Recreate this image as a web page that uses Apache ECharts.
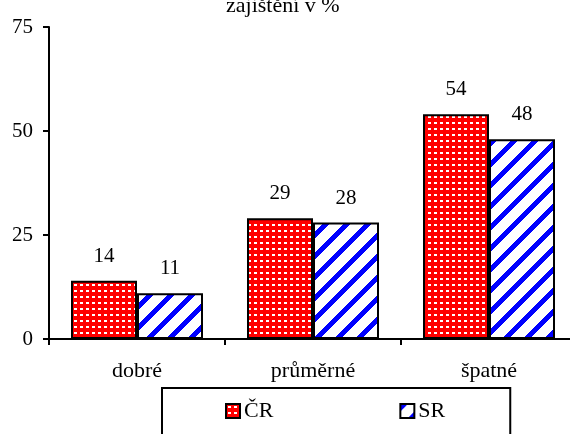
<!DOCTYPE html>
<html>
<head>
<meta charset="utf-8">
<script src="https://cdn.jsdelivr.net/npm/echarts@6/dist/echarts.min.js"></script>
<style>html,body{margin:0;padding:0;background:#fff;}#c{width:570px;height:434px;}</style>
</head>
<body>
<div id="c"></div>
<script>
const categories = ['dobré', 'průměrné', 'špatné'];
const seriesNames = ['ČR', 'SR'];
const valuesCR = [14, 29, 54];
const valuesSR = [11, 28, 48];
const yTicks = [0, 25, 50, 75];
const titleText = 'zajištění v %';

function makeDots() {
  const c = document.createElement('canvas');
  c.width = 6; c.height = 6;
  const g = c.getContext('2d');
  g.fillStyle = '#ff0000'; g.fillRect(0, 0, 6, 6);
  g.fillStyle = '#ffffff'; g.fillRect(2, 2, 3, 2);
  return c;
}
function makeStripes() {
  const P = 21, w = 7;
  const c = document.createElement('canvas');
  c.width = P; c.height = P;
  const g = c.getContext('2d');
  const img = g.createImageData(P, P);
  for (let y = 0; y < P; y++) for (let x = 0; x < P; x++) {
    const i = (y * P + x) * 4;
    const blue = ((x + y) % P) < w;
    img.data[i] = blue ? 0 : 255;
    img.data[i + 1] = blue ? 0 : 255;
    img.data[i + 2] = 255;
    img.data[i + 3] = 255;
  }
  g.putImageData(img, 0, 0);
  return c;
}
const font = "'Liberation Serif', 'Times New Roman', serif";
const fs = 21;
const chart = echarts.init(document.getElementById('c'), null, {renderer: 'canvas'});
const labelStyle = {show: true, position: 'top', distance: 14, color: '#000', fontSize: fs, fontFamily: font};
chart.setOption({
  animation: false,
  backgroundColor: '#fff',
  title: {text: titleText, left: 226, top: -5, padding: 0,
    textStyle: {fontSize: 22, fontWeight: 'normal', color: '#000', fontFamily: font}},
  grid: {left: 49, width: 528, top: 27, bottom: 95, containLabel: false, outerBoundsMode: 'none'},
  legend: {
    data: seriesNames, left: 162, top: 388, orient: 'horizontal',
    padding: [12, 65, 40, 63], itemGap: 126, itemWidth: 14, itemHeight: 14, icon: 'rect',
    borderColor: '#000', borderWidth: 2, backgroundColor: '#fff',
    itemStyle: {borderColor: '#000', borderWidth: 2},
    textStyle: {fontSize: 22, color: '#000', fontFamily: font, padding: [0, 0, 0, -1]}
  },
  xAxis: {
    type: 'category', data: categories, boundaryGap: true,
    axisLine: {lineStyle: {color: '#000', width: 2}},
    axisTick: {show: true, length: 6, lineStyle: {color: '#000', width: 2}},
    axisLabel: {color: '#000', fontSize: 22, fontFamily: font, margin: 21}
  },
  yAxis: {
    type: 'value', min: yTicks[0], max: yTicks[yTicks.length - 1], interval: 25,
    axisLine: {show: true, lineStyle: {color: '#000', width: 2}},
    axisTick: {show: true, length: 6, lineStyle: {color: '#000', width: 2}},
    splitLine: {show: false},
    axisLabel: {color: '#000', fontSize: fs, fontFamily: font, margin: 16}
  },
  series: [
    {name: seriesNames[0], type: 'bar', data: valuesCR, barGap: '0%', barCategoryGap: '25%',
      itemStyle: {color: {image: makeDots(), repeat: 'repeat'}, borderColor: '#000', borderWidth: 2},
      label: labelStyle},
    {name: seriesNames[1], type: 'bar', data: valuesSR, barGap: '0%', barCategoryGap: '25%',
      itemStyle: {color: {image: makeStripes(), repeat: 'repeat'}, borderColor: '#000', borderWidth: 2},
      label: labelStyle}
  ]
});
</script>
</body>
</html>
